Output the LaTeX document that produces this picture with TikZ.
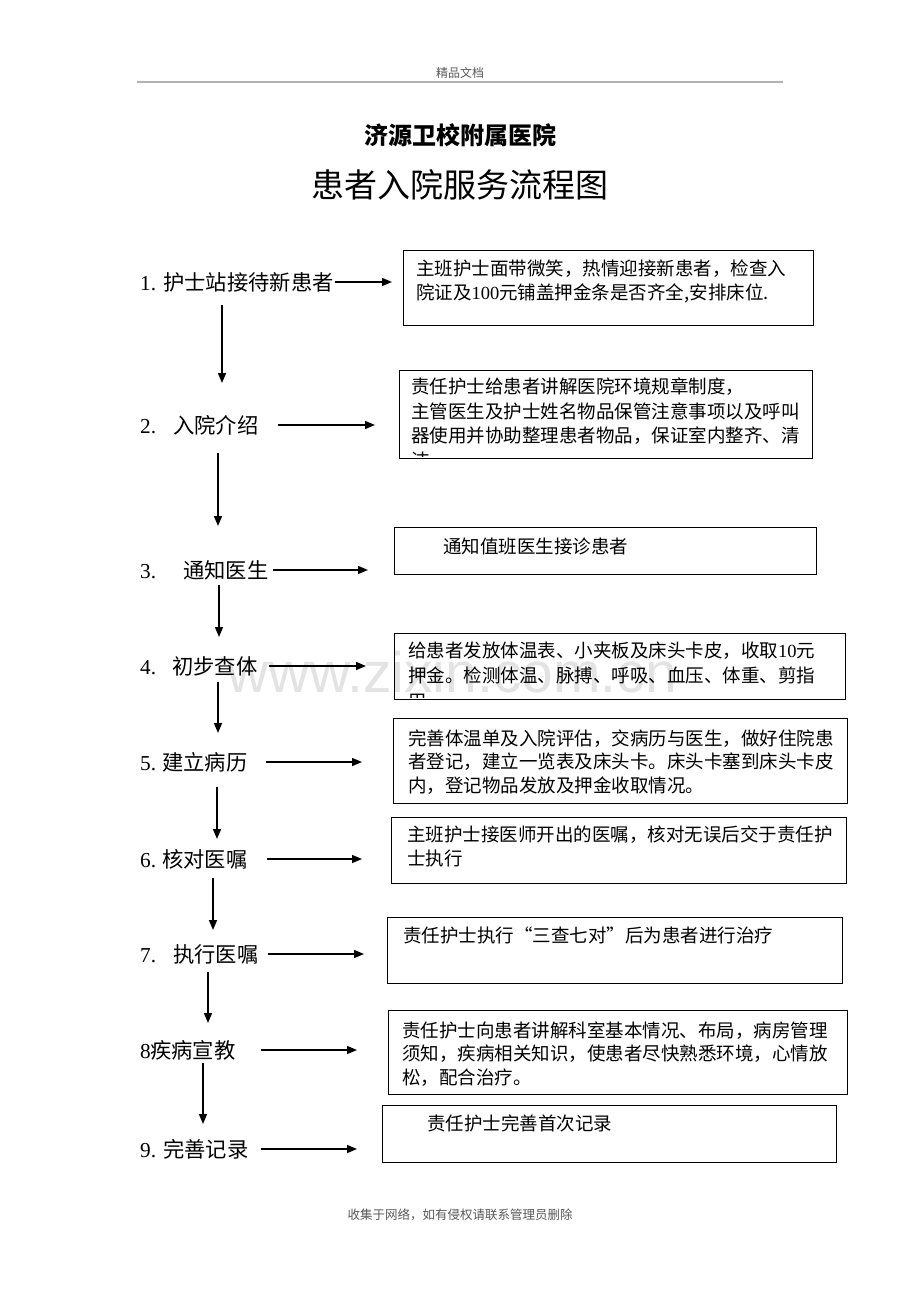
\documentclass[tikz,border=0pt]{standalone}
\usepackage{fontspec}
\setmainfont{Noto Sans CJK SC}
\newfontfamily\numfont{Liberation Serif}
\newfontfamily\wmfont{Liberation Sans}
\usetikzlibrary{arrows.meta,calc}
\begin{document}
\begin{tikzpicture}[x=1pt,y=-1pt,
  arr/.style={line width=1.5pt, -{Triangle[length=10pt,width=8pt]}},
  box/.style={draw=black, line width=1.2pt, anchor=north west, inner sep=0pt},
  lab/.style={anchor=west, inner sep=0pt, font=\fontsize{21.3}{25}\selectfont},
  btxt/.style={anchor=north west, inner sep=0pt, align=left, font=\fontsize{18.5}{24.5}\selectfont},
  hf/.style={inner sep=0pt, text=black!65},
]
\fill[white] (0,0) rectangle (920,1302);
\useasboundingbox (0,0) rectangle (920,1302);

% watermark
\node[inner sep=0pt, font=\wmfont\fontsize{57}{60}\selectfont, text=black!11] (wm) at (452,672) {www.zixin.com.cn};

% header and footer
\node[hf, font=\fontsize{12}{14}\selectfont] (hdr) at (460,73) {精品文档};
\draw[black!30, line width=1.5pt] (137,82) -- (783,82);
\node[hf, font=\fontsize{12.5}{14}\selectfont] (ftr) at (460,1215) {收集于网络，如有侵权请联系管理员删除};

% titles
\node[inner sep=0pt, font=\bfseries\fontsize{24}{28}\selectfont] (title1) at (460,135) {济源卫校附属医院};
\node[inner sep=0pt, font=\fontsize{33}{38}\selectfont] (title2) at (460,185) {患者入院服务流程图};

% left labels
\node[lab] (l1) at (140,282) {\makebox[23pt][l]{\numfont 1.}护士站接待新患者};
\node[lab] (l2) at (140,425) {\makebox[33pt][l]{\numfont 2.}入院介绍};
\node[lab] (l3) at (140,570) {\makebox[43pt][l]{\numfont 3.}通知医生};
\node[lab] (l4) at (140,666) {\makebox[32pt][l]{\numfont 4.}初步查体};
\node[lab] (l5) at (140,762) {\makebox[22pt][l]{\numfont 5.}建立病历};
\node[lab] (l6) at (140,859) {\makebox[22pt][l]{\numfont 6.}核对医嘱};
\node[lab] (l7) at (140,954) {\makebox[33pt][l]{\numfont 7.}执行医嘱};
\node[lab] (l8) at (140,1050) {\makebox[10pt][l]{\numfont 8}疾病宣教};
\node[lab] (l9) at (140,1149) {\makebox[23pt][l]{\numfont 9.}完善记录};

% boxes
\node[box, minimum width=410pt, minimum height=75pt] (b1) at (403,250) {};
\node[box, minimum width=413pt, minimum height=88pt] (b2) at (399,370) {};
\node[box, minimum width=422pt, minimum height=47pt] (b3) at (394,527) {};
\node[box, minimum width=451pt, minimum height=66pt] (b4) at (394,633) {};
\node[box, minimum width=454pt, minimum height=85pt] (b5) at (393,718) {};
\node[box, minimum width=455pt, minimum height=66pt] (b6) at (391,817) {};
\node[box, minimum width=455pt, minimum height=66pt] (b7) at (387,917) {};
\node[box, minimum width=459pt, minimum height=84pt] (b8) at (388,1010) {};
\node[box, minimum width=454pt, minimum height=57pt] (b9) at (382,1105) {};

% box texts
\node[btxt] (t1) at ([shift={(13,9.5)}]b1.north west) {主班护士面带微笑，热情迎接新患者，检查入\\院证及{\numfont 100}元铺盖押金条是否齐全,安排床位.};
\begin{scope}
\clip (b2.north west) rectangle ([yshift=3pt]b2.south east);
\node[btxt] (t2) at ([shift={(12,7.5)}]b2.north west) {责任护士给患者讲解医院环境规章制度，\\主管医生及护士姓名物品保管注意事项以及呼叫\\器使用并协助整理患者物品，保证室内整齐、清\\洁};
\end{scope}
\node[btxt] (t3) at ([shift={(49,10.5)}]b3.north west) {通知值班医生接诊患者};
\begin{scope}
\clip (b4.north west) rectangle ([yshift=3pt]b4.south east);
\node[btxt, font=\fontsize{18.5}{25.5}\selectfont] (t4) at ([shift={(14,8.5)}]b4.north west) {给患者发放体温表、小夹板及床头卡皮，收取{\numfont 10}元\\押金。检测体温、脉搏、呼吸、血压、体重、剪指\\甲};
\end{scope}
\node[btxt, font=\fontsize{18.5}{23.5}\selectfont] (t5) at ([shift={(15,11.5)}]b5.north west) {完善体温单及入院评估，交病历与医生，做好住院患\\者登记，建立一览表及床头卡。床头卡塞到床头卡皮\\内，登记物品发放及押金收取情况。};
\node[btxt] (t6) at ([shift={(16,8.5)}]b6.north west) {主班护士接医师开出的医嘱，核对无误后交于责任护\\士执行};
\node[btxt] (t7) at ([shift={(16,9.5)}]b7.north west) {责任护士执行“三查七对”后为患者进行治疗};
\node[btxt, font=\fontsize{18.5}{23.5}\selectfont] (t8) at ([shift={(14,11.5)}]b8.north west) {责任护士向患者讲解科室基本情况、布局，病房管理\\须知，疾病相关知识，使患者尽快熟悉环境，心情放\\松，配合治疗。};
\node[btxt] (t9) at ([shift={(45,9.5)}]b9.north west) {责任护士完善首次记录};

% horizontal arrows
\draw[arr, shorten <=195pt, shorten >=11pt] (l1.west) -- (l1.west -| b1.west);
\draw[arr, shorten <=138pt, shorten >=24pt] (l2.west) -- (l2.west -| b2.west);
\draw[arr, shorten <=133pt, shorten >=26pt] (l3.west) -- (l3.west -| b3.west);
\draw[arr, shorten <=129pt, shorten >=28pt] (l4.west) -- (l4.west -| b4.west);
\draw[arr, shorten <=126pt, shorten >=31pt] (l5.west) -- (l5.west -| b5.west);
\draw[arr, shorten <=127pt, shorten >=29pt] (l6.west) -- (l6.west -| b6.west);
\draw[arr, shorten <=128pt, shorten >=23pt] (l7.west) -- (l7.west -| b7.west);
\draw[arr, shorten <=121pt, shorten >=31pt] (l8.west) -- (l8.west -| b8.west);
\draw[arr, shorten <=121pt, shorten >=25pt] (l9.west) -- (l9.west -| b9.west);

% vertical arrows
\draw[arr, shorten <=23pt, shorten >=42pt] ([xshift=82pt]l1.west) -- ([xshift=82pt]l2.west);
\draw[arr, shorten <=28pt, shorten >=44pt] ([xshift=78pt]l2.west) -- ([xshift=78pt]l3.west);
\draw[arr, shorten <=15pt, shorten >=29pt] ([xshift=79pt]l3.west) -- ([xshift=79pt]l4.west);
\draw[arr, shorten <=16pt, shorten >=29pt] ([xshift=78pt]l4.west) -- ([xshift=78pt]l5.west);
\draw[arr, shorten <=25pt, shorten >=20pt] ([xshift=77pt]l5.west) -- ([xshift=77pt]l6.west);
\draw[arr, shorten <=19pt, shorten >=24pt] ([xshift=73pt]l6.west) -- ([xshift=73pt]l7.west);
\draw[arr, shorten <=18pt, shorten >=27pt] ([xshift=68pt]l7.west) -- ([xshift=68pt]l8.west);
\draw[arr, shorten <=13pt, shorten >=25pt] ([xshift=63pt]l8.west) -- ([xshift=63pt]l9.west);
\end{tikzpicture}
\end{document}
